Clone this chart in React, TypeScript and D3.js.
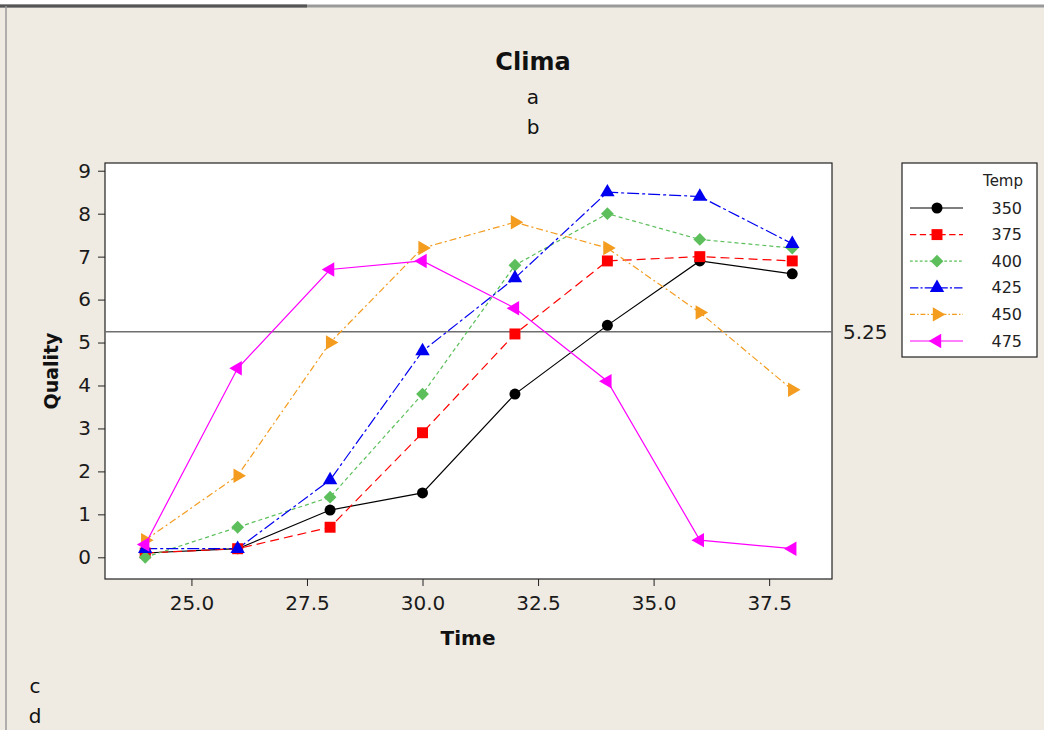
import React, { useEffect, useRef } from 'react';
import * as d3 from 'd3';

// data
const times = [24, 26, 28, 30, 32, 34, 36, 38];
const temps = ['350', '375', '400', '425', '450', '475'];
const q350 = [0.1, 0.2, 1.1, 1.5, 3.8, 5.4, 6.9, 6.6];
const q375 = [0.1, 0.2, 0.7, 2.9, 5.2, 6.9, 7.0, 6.9];
const q400 = [0.0, 0.7, 1.4, 3.8, 6.8, 8.0, 7.4, 7.2];
const q425 = [0.2, 0.2, 1.8, 4.8, 6.5, 8.5, 8.4, 7.3];
const q450 = [0.4, 1.9, 5.0, 7.2, 7.8, 7.2, 5.7, 3.9];
const q475 = [0.3, 4.4, 6.7, 6.9, 5.8, 4.1, 0.4, 0.2];
const xTicks = [25, 27.5, 30, 32.5, 35, 37.5];
const yTicks = [0, 1, 2, 3, 4, 5, 6, 7, 8, 9];
const refValue = 5.25;

const FONT = '"DejaVu Sans", Verdana, sans-serif';

const App = () => {
  const ref = useRef<SVGSVGElement | null>(null);

  useEffect(() => {
    if (!ref.current) return;
    const width = 1044;
    const height = 730;
    const plot = { left: 105, right: 832, top: 163, bottom: 579 };

    const svg = d3.select(ref.current);
    svg.selectAll('*').remove();
    svg.attr('width', width).attr('height', height);

    // background + window frame
    svg.append('rect').attr('width', width).attr('height', height).attr('fill', '#EFEBE2');
    svg.append('rect').attr('width', width).attr('height', 5).attr('fill', '#ffffff');
    svg.append('line').attr('x1', 0).attr('x2', width).attr('y1', 6).attr('y2', 6)
      .attr('stroke', '#9a9a9a').attr('stroke-width', 3);
    svg.append('line').attr('x1', 0).attr('x2', 307).attr('y1', 6).attr('y2', 6)
      .attr('stroke', '#555').attr('stroke-width', 3);
    svg.append('line').attr('x1', 6).attr('x2', 6).attr('y1', 6).attr('y2', height)
      .attr('stroke', '#9a9a9a').attr('stroke-width', 1.5);

    const x = d3.scaleLinear().domain([23.13, 38.86]).range([plot.left, plot.right]);
    const y = d3.scaleLinear().domain([-0.505, 9.18]).range([plot.bottom, plot.top]);

    svg.append('rect')
      .attr('x', plot.left).attr('y', plot.top)
      .attr('width', plot.right - plot.left).attr('height', plot.bottom - plot.top)
      .attr('fill', '#ffffff').attr('stroke', '#222').attr('stroke-width', 1.2);

    // axes
    const xAxis = svg.append('g').attr('transform', `translate(0,${plot.bottom})`)
      .call(d3.axisBottom(x).tickValues(xTicks).tickFormat(d3.format('.1f')).tickSize(7).tickPadding(6));
    const yAxis = svg.append('g').attr('transform', `translate(${plot.left},0)`)
      .call(d3.axisLeft(y).tickValues(yTicks).tickFormat(d3.format('d')).tickSize(7).tickPadding(7));
    [xAxis, yAxis].forEach(a => {
      a.select('.domain').remove();
      a.selectAll('line').attr('stroke', '#222');
      a.selectAll('text').attr('fill', '#1a1a1a').style('font-family', FONT).style('font-size', '20px');
    });
    xAxis.selectAll('text').attr('dy', '0.9em');

    // reference line
    svg.append('line')
      .attr('x1', plot.left).attr('x2', plot.right)
      .attr('y1', y(refValue)).attr('y2', y(refValue))
      .attr('stroke', '#6e6e6e').attr('stroke-width', 1.5);
    svg.append('text')
      .attr('x', 843).attr('y', y(refValue)).attr('dy', '0.35em')
      .style('font-family', FONT).style('font-size', '20px').attr('fill', '#1a1a1a')
      .text(refValue.toFixed(2));

    const series = [
      { name: temps[0], values: q350, color: '#000000', dash: null, symbol: d3.symbolCircle, size: 95, rotate: 0 },
      { name: temps[1], values: q375, color: '#FF0000', dash: '9,5', symbol: d3.symbolSquare, size: 120, rotate: 0 },
      { name: temps[2], values: q400, color: '#5CBF5C', dash: '4,3', symbol: d3.symbolSquare, size: 82, rotate: 45 },
      { name: temps[3], values: q425, color: '#0000F0', dash: '12,3,3,3', symbol: d3.symbolTriangle, size: 90, rotate: 0 },
      { name: temps[4], values: q450, color: '#F39C1F', dash: '7,3,2,3', symbol: d3.symbolTriangle, size: 90, rotate: 90 },
      { name: temps[5], values: q475, color: '#FF00FF', dash: null, symbol: d3.symbolTriangle, size: 90, rotate: -90 },
    ];

    const line = d3.line<number>().x((_, i) => x(times[i])).y(d => y(d));

    const g = svg.append('g');
    series.forEach(s => {
      g.append('path')
        .attr('d', line(s.values))
        .attr('fill', 'none')
        .attr('stroke', s.color)
        .attr('stroke-width', 1.2)
        .attr('stroke-dasharray', s.dash);
    });
    series.forEach(s => {
      g.selectAll(null)
        .data(s.values)
        .join('path')
        .attr('d', d3.symbol().type(s.symbol).size(s.size)())
        .attr('transform', (d, i) => `translate(${x(times[i])},${y(d)}) rotate(${s.rotate})`)
        .attr('fill', s.color);
    });

    // titles
    const text = (tx: number, ty: number, str: string, size: number, bold = false, anchor = 'middle') =>
      svg.append('text').attr('x', tx).attr('y', ty)
        .attr('text-anchor', anchor).attr('fill', '#111')
        .style('font-family', FONT).style('font-size', `${size}px`)
        .style('font-weight', bold ? 'bold' : 'normal').text(str);

    text(533, 70, 'Clima', 24, true);
    text(533, 104, 'a', 20);
    text(533, 134, 'b', 20);
    text(468, 645, 'Time', 20, true);
    text(35, 693, 'c', 20);
    text(35, 723, 'd', 20);
    text(0, 0, 'Quality', 19, true)
      .attr('transform', `translate(58,${(plot.top + plot.bottom) / 2}) rotate(-90)`);

    // legend
    const legend = svg.append('g').attr('transform', 'translate(902,163)');
    legend.append('rect').attr('width', 135).attr('height', 194)
      .attr('fill', '#ffffff').attr('stroke', '#222').attr('stroke-width', 1.2);
    legend.append('text').attr('x', 121).attr('y', 18).attr('dy', '0.35em')
      .attr('text-anchor', 'end').attr('fill', '#222')
      .style('font-family', FONT).style('font-size', '15px').text('Temp');

    series.forEach((s, i) => {
      const row = legend.append('g').attr('transform', `translate(0,${45 + i * 26.6})`);
      row.append('line').attr('x1', 8).attr('x2', 61)
        .attr('stroke', s.color).attr('stroke-width', 1.2)
        .attr('stroke-dasharray', s.dash ? s.dash.split(',').map(v => +v * 0.7).join(',') : null);
      row.append('path')
        .attr('d', d3.symbol().type(s.symbol).size(s.size)())
        .attr('transform', `translate(35,0) rotate(${s.rotate})`)
        .attr('fill', s.color);
      row.append('text').attr('x', 120).attr('dy', '0.35em')
        .attr('text-anchor', 'end').attr('fill', '#222')
        .style('font-family', FONT).style('font-size', '16px').text(s.name);
    });
  }, []);

  return <svg ref={ref} style={{ position: 'absolute', left: 0, top: 0, display: 'block' }} />;
};

export default App;
